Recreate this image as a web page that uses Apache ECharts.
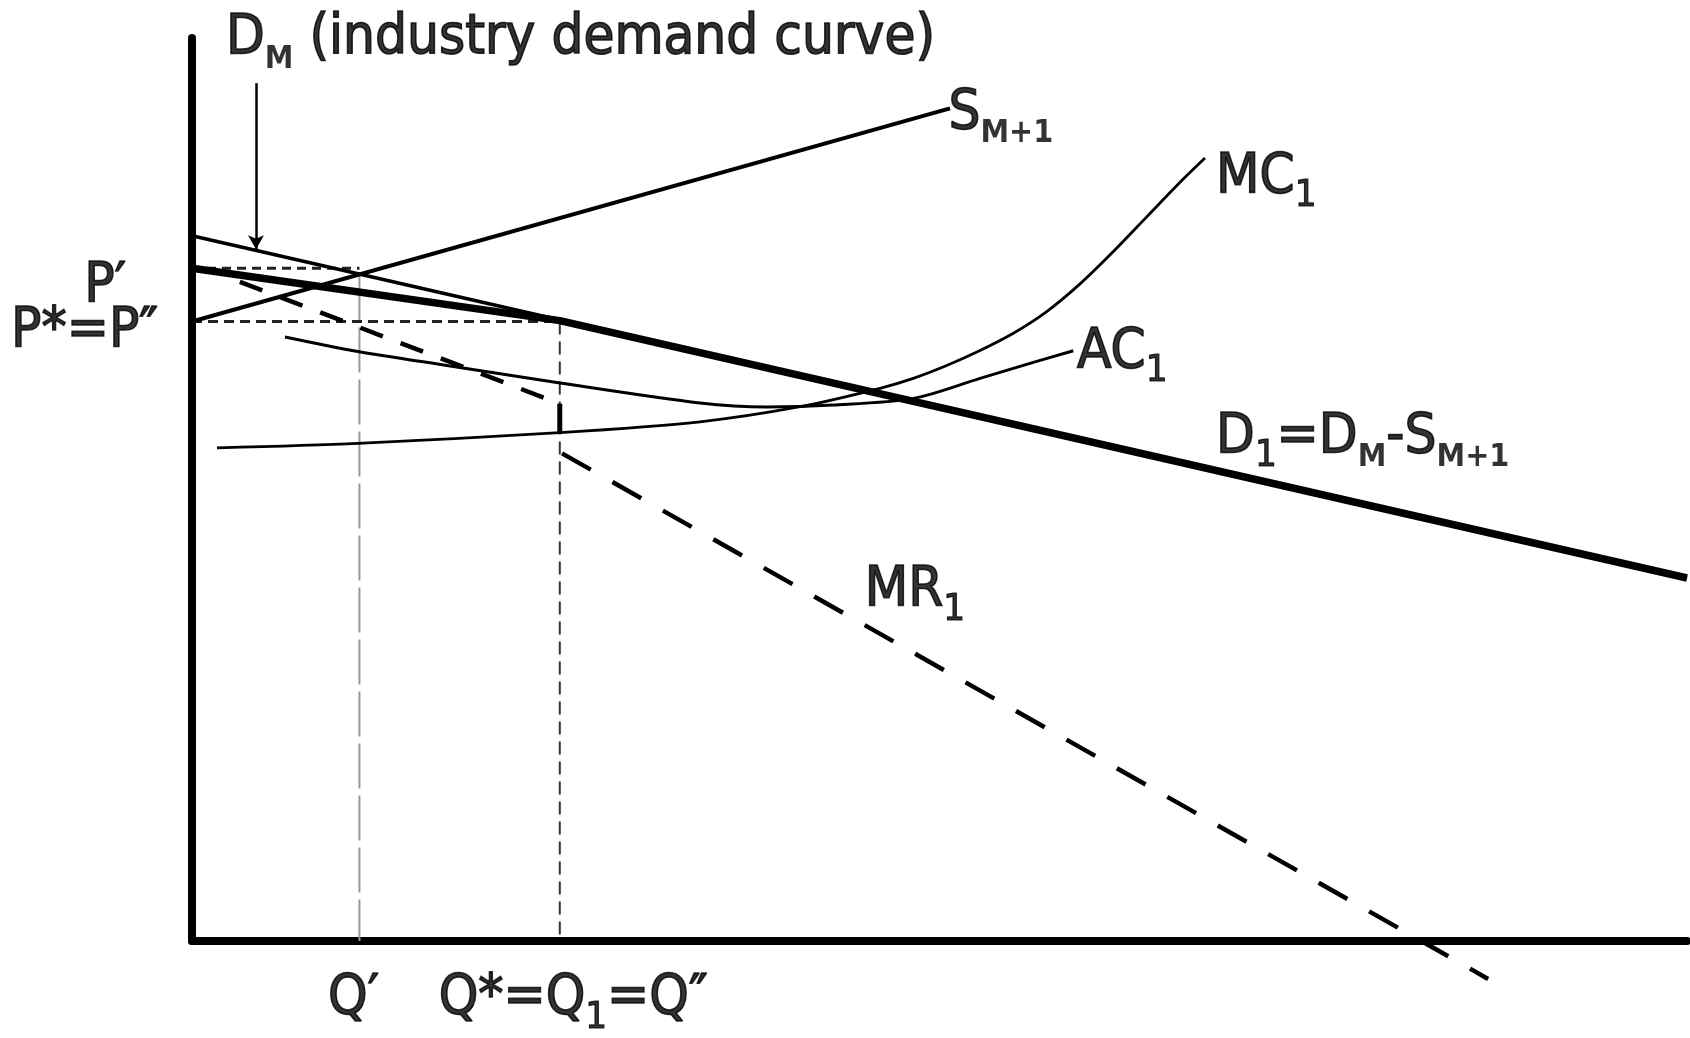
<!DOCTYPE html>
<html>
<head>
<meta charset="utf-8">
<script src="https://cdn.jsdelivr.net/npm/echarts@6/dist/echarts.min.js"></script>
<style>
html,body{margin:0;padding:0;background:#fff;}
#chart{width:1690px;height:1038px;}
</style>
</head>
<body>
<div id="chart"></div>
<script>
// ---- data (quantity on x, price on y; axis range 0..100) ----
const demandMarket = [[0, 78.1], [100, 40.2]];               // D_M
const demandFirm   = [[0, 74.5], [24.6, 68.7], [100, 40.2]];  // D1 = DM - SM+1
const supplyOthers = [[0, 68.6], [50.7, 92.2]];               // S_M+1
const mrUpper      = [[3.2, 73.0], [24.6, 59.5]];             // MR1 (upper branch)
const mrJump       = [[24.6, 59.5], [24.6, 56.4]];            // MR1 discontinuity
const mrLower      = [[24.75, 54.0], [86.7, -4.2]];           // MR1 (lower branch)
const marginalCost = [[1.67, 54.6], [11.1, 55.1], [24.6, 56.3], [33.98, 57.5], [40.67, 59.17],
                      [46.02, 61.21], [48.25, 62.31], [50.48, 63.73], [52.71, 65.39], [54.94, 67.3],
                      [57.17, 69.7], [59.4, 72.77], [61.63, 76.35], [63.86, 80.19], [66.09, 84.03],
                      [67.76, 86.71]];
const averageCost  = [[6.22, 66.89], [11.1, 65.28], [17.26, 63.68], [24.62, 61.79], [33.98, 59.58],
                      [38.46, 59.14], [42.88, 59.36], [48.25, 60.09], [52.71, 62.3], [56.05, 63.97],
                      [58.95, 65.37]];
const pPrime = 74.5, pStar = 68.6, qPrime = 11.2, qStar = 24.6;
const pPrimeGuide = [[0, pPrime], [qPrime, pPrime]];
const pStarGuide  = [[0, pStar], [qStar, pStar]];
const qPrimeGuide = [[qPrime, 73.7], [qPrime, 0]];
const qStarGuide  = [[qStar, pStar], [qStar, 0]];
const arrowFrom = [4.28, 95.0], arrowTo = [4.28, 76.6];
// label texts and anchor (top-left) positions
const labelTexts = [
  '{m|D}{b|M}{m| (industry demand curve)}',
  '{m|S}{b|M+1}',
  '{m|MC}{n|1}',
  '{m|AC}{n|1}',
  '{m|D}{n|1}{m|=D}{b|M}{m|-S}{b|M+1}',
  '{m|MR}{n|1}',
  '{m|P′}',
  '{m|P*=P″}',
  '{m|Q′}',
  '{m|Q*=Q}{n|1}{m|=Q″}'
];
const labelPos = [
  [2.27, 103.0], [50.6, 94.8], [68.5, 87.7], [59.2, 68.3], [68.5, 58.9],
  [45.0, 41.9], [-7.2, 75.6], [-12.1, 70.65], [9.1, -3.3], [16.5, -3.3]
];

const FONT = "'DejaVu Sans Condensed', 'Noto Sans', sans-serif";
const chart = echarts.init(document.getElementById('chart'), null, {renderer: 'canvas'});

function lineSeries(name, data, width, extra) {
  return Object.assign({
    name: name, type: 'line', data: data, symbol: 'none', clip: false,
    silent: true, animation: false,
    lineStyle: {color: '#000', width: width, type: 'solid', cap: 'butt', join: 'round'}
  }, extra || {});
}

const rich = {
  m: {fontFamily: FONT, fontSize: 56, lineHeight: 56, color: '#000', verticalAlign: 'top',
      textBorderWidth: 1.6, textBorderColor: '#000'},
  b: {fontFamily: FONT, fontSize: 32, lineHeight: 32, fontWeight: 'bold', color: '#000',
      verticalAlign: 'top', padding: [33, 0, 0, 0]},
  n: {fontFamily: FONT, fontSize: 38, lineHeight: 38, color: '#000',
      verticalAlign: 'top', padding: [28, 0, 0, 0], textBorderWidth: 1.2, textBorderColor: '#000'}
};

const option = {
  backgroundColor: '#fff',
  animation: false,
  grid: {left: 192, right: 3, top: 38, bottom: 97, containLabel: false},
  xAxis: {
    type: 'value', min: 0, max: 100,
    axisLine: {show: true, onZero: false, lineStyle: {color: '#000', width: 8}},
    axisTick: {show: false}, axisLabel: {show: false}, splitLine: {show: false}
  },
  yAxis: {
    type: 'value', min: 0, max: 100,
    axisLine: {show: true, onZero: false, lineStyle: {color: '#000', width: 8}},
    axisTick: {show: false}, axisLabel: {show: false}, splitLine: {show: false}
  },
  series: [
    lineSeries('Qprime', qPrimeGuide, 2, {lineStyle: {color: '#999', width: 2, type: [45, 7]}}),
    lineSeries('Qstar', qStarGuide, 2, {lineStyle: {color: '#333', width: 2, type: [13, 7]}}),
    lineSeries('Pprime', pPrimeGuide, 3, {lineStyle: {color: '#222', width: 3, type: [9, 6]}}),
    lineSeries('Pstar', pStarGuide, 3, {lineStyle: {color: '#222', width: 3, type: [10, 6]}}),
    lineSeries('AC1', averageCost, 3, {smooth: 0.3}),
    lineSeries('MC1', marginalCost, 2.8, {smooth: 0.3}),
    lineSeries('SM1', supplyOthers, 4),
    lineSeries('DM', demandMarket, 3.5, {
      markLine: {
        silent: true, animation: false, symbol: ['none', 'arrow'], symbolSize: [12, 14],
        label: {show: false},
        lineStyle: {color: '#000', width: 2.5, type: 'solid'},
        data: [[{coord: arrowFrom}, {coord: arrowTo}]]
      }
    }),
    lineSeries('D1', demandFirm, 7.5),
    lineSeries('MRu', mrUpper, 4, {lineStyle: {color: '#000', width: 4.5, type: [24, 19]}}),
    lineSeries('MRj', mrJump, 5),
    lineSeries('MRl', mrLower, 4, {lineStyle: {color: '#000', width: 4.5, type: [33, 25]}}),
    {
      type: 'scatter', silent: true, animation: false, clip: false,
      symbolSize: 0,
      data: labelPos.map((p, i) => ({
        value: p,
        label: {show: true, position: [0, 0], color: '#000', formatter: labelTexts[i], rich: rich}
      }))
    }
  ]
};
chart.setOption(option);
</script>
</body>
</html>
